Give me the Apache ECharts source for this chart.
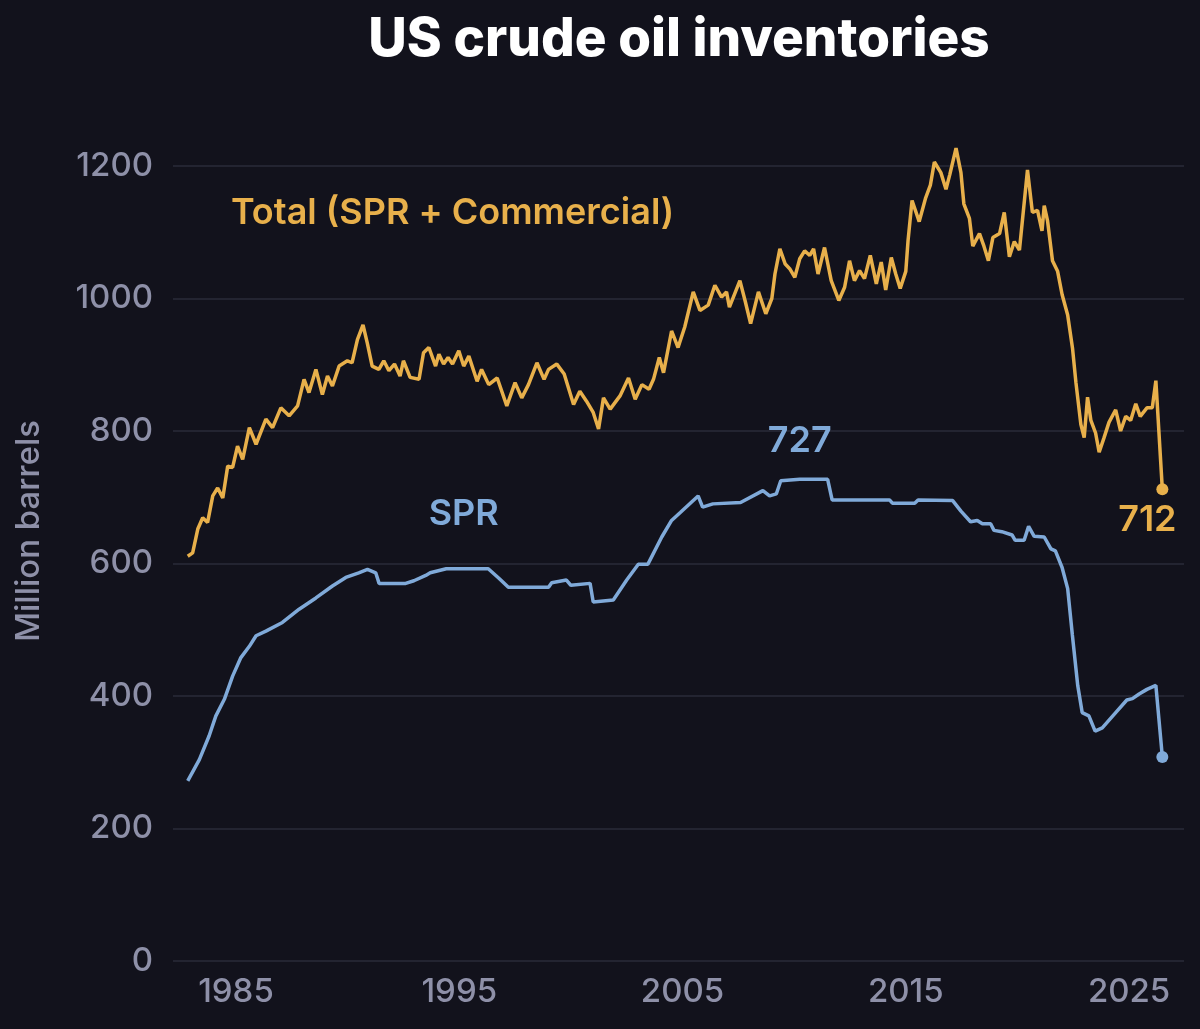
<!DOCTYPE html>
<html>
<head>
<meta charset="utf-8">
<title>US crude oil inventories</title>
<script src="https://cdn.jsdelivr.net/npm/echarts@6.0.0/dist/echarts.min.js"></script>
<style>
  html, body { margin: 0; padding: 0; background: #12121c; }
  #chart { width: 1200px; height: 1029px; }
</style>
</head>
<body>
<div id="chart"></div>
<script>
// values (million barrels, decimal years)
const totalYears = [
  1982.84, 1983.06, 1983.29, 1983.51, 1983.73, 1983.96, 1984.18, 1984.41, 1984.63, 1984.85,
  1985.07, 1985.30, 1985.60, 1985.90, 1986.34, 1986.64, 1987.01, 1987.38, 1987.76, 1988.05,
  1988.27, 1988.58, 1988.87, 1989.10, 1989.32, 1989.62, 1989.99, 1990.20, 1990.44, 1990.69,
  1990.88, 1991.10, 1991.40, 1991.62, 1991.85, 1992.10, 1992.35, 1992.50, 1992.80, 1993.20,
  1993.40, 1993.64, 1993.94, 1994.09, 1994.30, 1994.50, 1994.70, 1994.98, 1995.20, 1995.43,
  1995.80, 1996.00, 1996.32, 1996.70, 1997.13, 1997.50, 1997.80, 1998.10, 1998.48, 1998.80,
  1999.00, 1999.37, 1999.70, 2000.12, 2000.40, 2000.70, 2001.00, 2001.24, 2001.46, 2001.76,
  2002.20, 2002.58, 2002.88, 2003.18, 2003.50, 2003.70, 2003.96, 2004.15, 2004.51, 2004.80,
  2005.10, 2005.48, 2005.78, 2006.15, 2006.45, 2006.75, 2006.97, 2007.10, 2007.57, 2007.80,
  2008.05, 2008.40, 2008.73, 2009.00, 2009.14, 2009.36, 2009.60, 2009.80, 2010.03, 2010.25,
  2010.47, 2010.70, 2010.87, 2011.07, 2011.36, 2011.66, 2012.00, 2012.26, 2012.48, 2012.70,
  2012.93, 2013.15, 2013.41, 2013.68, 2013.90, 2014.10, 2014.35, 2014.55, 2014.75, 2015.00,
  2015.10, 2015.28, 2015.60, 2015.89, 2016.10, 2016.28, 2016.57, 2016.80, 2016.97, 2017.25,
  2017.47, 2017.60, 2017.85, 2018.00, 2018.30, 2018.50, 2018.70, 2018.90, 2019.20, 2019.41,
  2019.64, 2019.86, 2020.09, 2020.45, 2020.67, 2020.90, 2021.10, 2021.20, 2021.35, 2021.57,
  2021.80, 2022.00, 2022.25, 2022.47, 2022.62, 2022.84, 2022.99, 2023.14, 2023.29, 2023.50,
  2023.66, 2023.88, 2024.10, 2024.40, 2024.62, 2024.85, 2025.07, 2025.30, 2025.50, 2025.80,
  2026.04, 2026.20, 2026.49
];
const totalValues = [
  611, 616, 652, 669, 662, 702, 714, 699, 747, 745,
  777, 757, 805, 780, 818, 805, 835, 823, 838, 878,
  858, 893, 855, 883, 868, 898, 906, 903, 938, 960,
  933, 898, 893, 906, 891, 901, 883, 906, 881, 878,
  918, 926, 898, 916, 901, 911, 901, 921, 898, 913,
  875, 893, 870, 880, 838, 873, 850, 870, 903, 878,
  893, 901, 886, 840, 860, 845, 828, 803, 850, 833,
  853, 880, 848, 870, 863, 878, 911, 888, 951, 926,
  957, 1010, 982, 990, 1020, 1002, 1010, 987, 1027, 997,
  962, 1010, 977, 1000, 1037, 1075, 1052, 1045, 1032, 1060,
  1072, 1065, 1075, 1037, 1077, 1027, 997, 1017, 1057, 1027,
  1042, 1030, 1065, 1022, 1055, 1013, 1062, 1037, 1015, 1041,
  1087, 1148, 1116, 1152, 1171, 1206, 1190, 1165, 1187, 1227,
  1190, 1143, 1121, 1079, 1098, 1079, 1057, 1092, 1098, 1130,
  1063, 1086, 1073, 1194, 1130, 1133, 1102, 1140, 1117, 1057,
  1041, 1006, 975, 924, 873, 810, 790, 851, 816, 797,
  768, 790, 813, 832, 800, 822, 816, 841, 822, 835,
  835, 876, 712
];

const sprYears = [
  1982.84, 1983.36, 1983.80, 1984.10, 1984.48, 1984.85, 1985.22, 1985.60, 1985.90, 1986.34,
  1987.08, 1987.83, 1988.58, 1989.32, 1989.92, 1990.50, 1990.89, 1991.26, 1991.41, 1992.60,
  1992.97, 1993.50, 1993.70, 1994.42, 1996.30, 1996.80, 1997.20, 1999.00, 1999.14, 1999.80,
  2000.00, 2000.86, 2001.00, 2001.90, 2002.50, 2003.02, 2003.45, 2004.07, 2004.51, 2004.90,
  2005.70, 2005.90, 2006.36, 2007.60, 2008.60, 2008.90, 2009.20, 2009.40, 2010.25, 2011.50,
  2011.70, 2014.27, 2014.40, 2015.40, 2015.55, 2017.10, 2017.47, 2017.90, 2018.20, 2018.43,
  2018.80, 2018.95, 2019.30, 2019.76, 2019.90, 2020.30, 2020.50, 2020.75, 2021.20, 2021.50,
  2021.70, 2022.00, 2022.25, 2022.46, 2022.70, 2022.90, 2023.20, 2023.48, 2023.80, 2024.40,
  2024.90, 2025.15, 2025.45, 2025.80, 2026.20, 2026.49
];
const sprValues = [
  272, 304, 340, 370, 395, 430, 458, 475, 491, 498,
  511, 531, 548, 566, 579, 586, 591, 586, 570, 570,
  574, 582, 586, 592, 592, 577, 564, 564, 571, 575,
  567, 570, 542, 545, 575, 599, 599, 640, 665, 677,
  702, 685, 690, 692, 710, 702, 705, 725, 727, 727,
  696, 696, 691, 691, 696, 695, 679, 663, 665, 660,
  660, 650, 648, 643, 635, 635, 656, 641, 640, 622,
  619, 594, 562, 492, 416, 375, 370, 347, 352, 375,
  394, 396, 403, 410, 416, 308
];

const yearTicks = [1985, 1995, 2005, 2015, 2025];

const GOLD = "#e8b04b";
const BLUE = "#80aad9";
const MUTED = "#8e90a8";
const GRID = "#2a2b39";
const FONT = "Inter, 'Noto Sans', sans-serif";

function zip(xs, ys) {
  return xs.map((x, i) => [x, ys[i]]);
}

function lastPoint(xs, ys) {
  return [xs[xs.length - 1], ys[ys.length - 1]];
}

const chart = echarts.init(document.getElementById("chart"), null, { renderer: "canvas" });

chart.setOption({
  backgroundColor: "#12121c",
  animation: false,
  textStyle: { fontFamily: FONT },
  title: {
    text: "US crude oil inventories",
    left: 674,
    top: 9,
    textAlign: "center",
    textStyle: { color: "#ffffff", fontSize: 53, fontWeight: 800, fontFamily: FONT },
  },
  grid: { left: 173, right: 16, top: 166, bottom: 68, containLabel: false },
  graphic: [
    {
      type: "text",
      x: 29,
      y: 531,
      rotation: Math.PI / 2,
      style: {
        text: "Million barrels",
        fill: MUTED,
        font: `500 33px ${FONT}`,
        align: "center",
        verticalAlign: "middle",
      },
    },
  ],
  xAxis: {
    type: "value",
    min: 1982.18,
    max: 2027.46,
    axisLine: { show: false },
    axisTick: { show: false },
    splitLine: { show: false },
    axisLabel: {
      customValues: yearTicks,
      formatter: (v) => String(v),
      color: MUTED,
      fontSize: 33,
      fontWeight: 500,
      margin: 15,
    },
  },
  yAxis: {
    type: "value",
    min: 0,
    max: 1200,
    interval: 200,
    axisLine: { show: false },
    axisTick: { show: false },
    splitLine: { lineStyle: { color: GRID, width: 1.5 } },
    axisLabel: {
      color: MUTED,
      fontSize: 33,
      fontWeight: 500,
      margin: 20,
      formatter: (v) => String(v),
    },
  },
  series: [
    {
      name: "SPR",
      type: "line",
      data: zip(sprYears, sprValues),
      showSymbol: false,
      clip: false,
      lineStyle: { color: BLUE, width: 3.5 },
      markPoint: {
        symbol: "circle",
        symbolSize: 0,
        label: { show: true, fontFamily: FONT },
        data: [
          {
            type: "max",
            label: {
              position: "top",
              distance: 20,
              color: BLUE,
              fontSize: 36,
              fontWeight: 600,
              formatter: (p) => String(p.value),
            },
          },
          {
            coord: [1995.2, 675],
            label: {
              position: "inside",
              color: BLUE,
              fontSize: 36,
              fontWeight: 600,
              formatter: "SPR",
            },
          },
        ],
      },
    },
    {
      name: "Total (SPR + Commercial)",
      type: "line",
      data: zip(totalYears, totalValues),
      showSymbol: false,
      clip: false,
      lineStyle: { color: GOLD, width: 3.5 },
      markPoint: {
        symbol: "circle",
        symbolSize: 0,
        data: [
          {
            coord: [1994.7, 1129],
            label: {
              show: true,
              position: "inside",
              color: GOLD,
              fontSize: 36,
              fontWeight: 600,
              fontFamily: FONT,
              formatter: "Total (SPR + Commercial)",
            },
          },
        ],
      },
    },
    {
      name: "ends",
      type: "scatter",
      symbol: "circle",
      symbolSize: 12,
      clip: false,
      itemStyle: { opacity: 1 },
      data: [
        {
          value: lastPoint(totalYears, totalValues),
          itemStyle: { color: GOLD, opacity: 1 },
          label: {
            show: true,
            position: "bottom",
            offset: [-15, 2],
            color: GOLD,
            fontSize: 36,
            fontWeight: 600,
            fontFamily: FONT,
            formatter: (p) => String(p.value[1]),
          },
        },
        {
          value: lastPoint(sprYears, sprValues),
          itemStyle: { color: BLUE, opacity: 1 },
        },
      ],
    },
  ],
});
</script>
</body>
</html>
